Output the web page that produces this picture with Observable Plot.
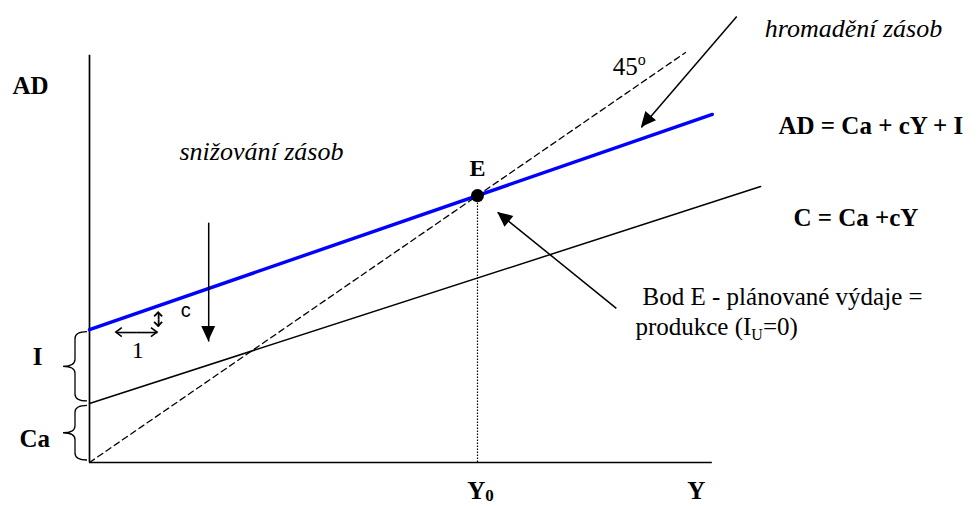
<!DOCTYPE html>
<html><head><meta charset="utf-8">
<script src="https://cdn.jsdelivr.net/npm/d3@7"></script>
<script src="https://cdn.jsdelivr.net/npm/@observablehq/plot@0.6"></script>
<style>body{margin:0;background:#fff;}</style>
</head><body><div id="chart"></div>
<script>
// ---- model values (horizontal: output Y, vertical: AD) ----
const Ca = 14.4;             // autonomous consumption
const adIntercept = 32.4;    // Ca + I
const Y0 = 65.1;             // equilibrium output
const yAxisTop = 99.3;
const xAxisEnd = 104.5;
const line45 = [{Y: 0, v: 0}, {Y: 100, v: 100}];
const adLine = [{Y: 0, v: 32.4}, {Y: 104.5, v: 84.9}];
const cLine = [{Y: 0, v: 14.4}, {Y: 112.6, v: 67.3}];
const equilibrium = [{Y: 65.1, v: 65.1}];
const bigArrows = [
  {x1: 108.6, y1: 108.8, x2: 92.6, y2: 81.7},
  {x1: 20.0, y1: 58.5, x2: 20.0, y2: 29.5},
  {x1: 88.4, y1: 37.6, x2: 68.5, y2: 61.0}
];
const unitArrows = [
  {x1: 7.95, y1: 31.7, x2: 4.5, y2: 31.7}, {x1: 7.95, y1: 31.7, x2: 11.4, y2: 31.7}
];
const slopeArrows = [
  {x1: 11.6, y1: 34.85, x2: 11.6, y2: 33.2}, {x1: 11.6, y1: 34.85, x2: 11.6, y2: 36.5}
];
const braces = [{from: 0, to: 14.4}, {from: 14.4, to: 32.4}];
const boldCenterLabels = [
  {text: "AD", x: -9.9, y: 90.0},
  {text: "I", x: -8.7, y: 23.7},
  {text: "Ca", x: -9.2, y: 3.7},
  {text: "Y0", x: 65.6, y: -8.8}
];
const boldStartLabels = [
  {text: "AD = Ca + cY + I", x: 115.6, y: 80.2},
  {text: "C = Ca +cY", x: 118.1, y: 57.8},
  {text: "Y", x: 100.3, y: -8.8}
];
const italicLabels = [
  {text: "hromadění zásob", x: 113.3, y: 103.9},
  {text: "snižování zásob", x: 15.1, y: 73.7}
];
const regularLabels = [
  {text: "45°", x: 87.8, y: 94.6},
  {text: "Bod E - plánované výdaje =", x: 92.8, y: 38.3},
  {text: "produkce (IU=0)", x: 91.6, y: 31.0}
];
const smallLabels = [{text: "1", x: 8.1, y: 25.4}];
const sansLabels = [{text: "c", x: 15.3, y: 35.4}];

const serif = "'Liberation Serif', 'Times New Roman', serif";

function headPoints(scales, d, length, width) {
  const x1 = scales.x(d.x1), y1 = scales.y(d.y1), x2 = scales.x(d.x2), y2 = scales.y(d.y2);
  const a = Math.atan2(y2 - y1, x2 - x1);
  const bx = x2 - length * Math.cos(a), by = y2 - length * Math.sin(a);
  const px = -Math.sin(a) * width / 2, py = Math.cos(a) * width / 2;
  return {x2, y2, l: [bx + px, by + py], r: [bx - px, by - py]};
}

function arrowHeads(data, length = 15, width = 14) {
  return (index, scales) => {
    const g = d3.create("svg:g").attr("fill", "black");
    for (const d of data) {
      const p = headPoints(scales, d, length, width);
      g.append("path").attr("d", `M${p.x2},${p.y2}L${p.l}L${p.r}Z`);
    }
    return g.node();
  };
}

function openHeads(data, length, width, sw) {
  return (index, scales) => {
    const g = d3.create("svg:g").attr("fill", "none").attr("stroke", "black")
      .attr("stroke-width", sw).attr("stroke-linejoin", "miter");
    for (const d of data) {
      const p = headPoints(scales, d, length, width);
      g.append("path").attr("d", `M${p.l}L${p.x2},${p.y2}L${p.r}`);
    }
    return g.node();
  };
}

function braceMark(data) {
  return (index, scales) => {
    const g = d3.create("svg:g").attr("fill", "none").attr("stroke", "black").attr("stroke-width", 1.3);
    const xa = scales.x(0);
    for (const b of data) {
      const top = scales.y(b.to) + 2.5, bot = scales.y(b.from) - 2;
      const xr = xa - 2, xm = xa - 14, xt = xa - 26, r = 7, ym = (top + bot) / 2;
      g.append("path").attr("d",
        `M${xr},${top}Q${xm},${top} ${xm},${top + r}L${xm},${ym - r}Q${xm},${ym} ${xt},${ym}` +
        `Q${xm},${ym} ${xm},${ym + r}L${xm},${bot - r}Q${xm},${bot} ${xr},${bot}`);
    }
    return g.node();
  };
}

const textBase = {x: "x", y: "y", text: "text", lineAnchor: "bottom", fontFamily: serif, fill: "black"};

const chart = Plot.plot({
  width: 978,
  height: 506,
  margin: 0,
  style: {background: "white", overflow: "visible"},
  x: {domain: [0, 100], range: [89, 685], axis: null},
  y: {domain: [0, 100], range: [462, 52], axis: null},
  marks: [
    Plot.ruleX([0], {y1: 0, y2: yAxisTop, stroke: "black", strokeWidth: 1.7}),
    Plot.ruleY([0], {x1: 0, x2: xAxisEnd, stroke: "black", strokeWidth: 1.7}),
    Plot.line(line45, {x: "Y", y: "v", stroke: "black", strokeWidth: 1.3, strokeDasharray: "6,4"}),
    Plot.line(cLine, {x: "Y", y: "v", stroke: "black", strokeWidth: 1.5}),
    Plot.ruleX(equilibrium, {x: "Y", y1: 0, y2: "v", stroke: "black", strokeWidth: 1.2, strokeDasharray: "1.5,1.5"}),
    Plot.line(adLine, {x: "Y", y: "v", stroke: "#0000ff", strokeWidth: 3.4}),
    Plot.dot(equilibrium, {x: "Y", y: "v", r: 6.5, fill: "black"}),
    Plot.text(equilibrium, {x: "Y", y: "v", text: () => "E", dy: -20, lineAnchor: "bottom", fontFamily: serif, fontWeight: "bold", fontSize: 24, fill: "black"}),
    braceMark(braces),
    Plot.link(bigArrows, {x1: "x1", y1: "y1", x2: "x2", y2: "y2", stroke: "black", strokeWidth: 1.5}),
    arrowHeads(bigArrows),
    Plot.link(unitArrows, {x1: "x1", y1: "y1", x2: "x2", y2: "y2", stroke: "black", strokeWidth: 1.6}),
    openHeads(unitArrows, 6, 9, 1.6),
    Plot.link(slopeArrows, {x1: "x1", y1: "y1", x2: "x2", y2: "y2", stroke: "black", strokeWidth: 1.8}),
    openHeads(slopeArrows, 4, 8, 1.8),
    Plot.text(boldCenterLabels, {...textBase, textAnchor: "middle", fontWeight: "bold", fontSize: 25}),
    Plot.text(boldStartLabels, {...textBase, textAnchor: "start", fontWeight: "bold", fontSize: 25}),
    Plot.text(italicLabels, {...textBase, textAnchor: "start", fontStyle: "italic", fontSize: 26}),
    Plot.text(regularLabels, {...textBase, textAnchor: "start", fontSize: 25}),
    Plot.text(smallLabels, {...textBase, textAnchor: "middle", fontSize: 24}),
    Plot.text(sansLabels, {...textBase, textAnchor: "start", fontFamily: "'Liberation Sans', Arial, sans-serif", fontSize: 20})
  ]
});

// subscripts / superscripts kept as real text
d3.select(chart).selectAll("text").each(function () {
  const t = this.textContent;
  const sel = d3.select(this);
  if (t === "Y0") {
    sel.text(null);
    sel.append("tspan").text("Y");
    sel.append("tspan").attr("font-size", 17).attr("dy", 2).text("0");
  } else if (t === "produkce (IU=0)") {
    sel.text(null);
    sel.append("tspan").text("produkce (I");
    sel.append("tspan").attr("font-size", 16).attr("dy", 5).text("U");
    sel.append("tspan").attr("dy", -5).text("=0)");
  } else if (t === "45°") {
    sel.text(null);
    sel.append("tspan").text("45");
    sel.append("tspan").attr("font-size", 16).attr("dy", -10).text("o");
  }
});

document.getElementById("chart").appendChild(chart);
</script>
</body></html>
